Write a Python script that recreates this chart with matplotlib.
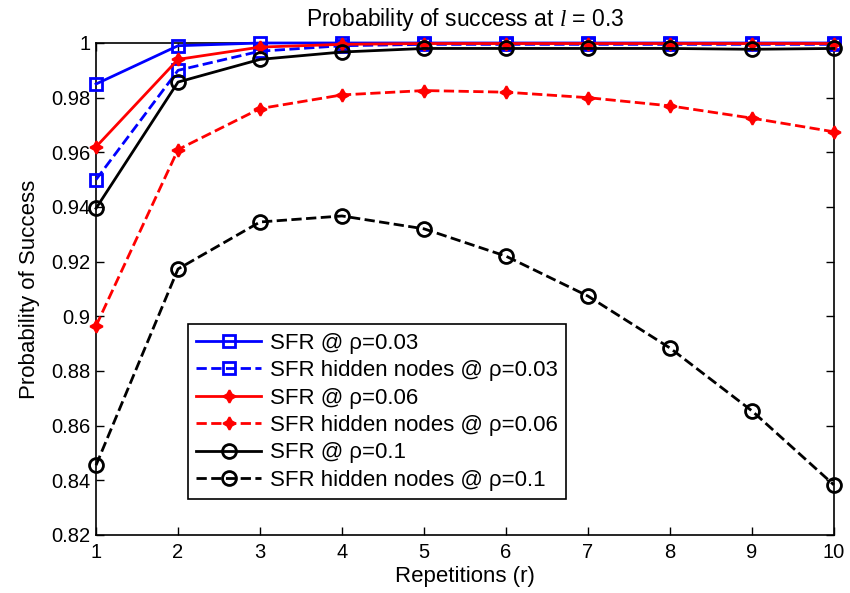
import matplotlib
matplotlib.use("Agg")
from matplotlib import pyplot as plt

plt.rcParams['font.family'] = ['Liberation Sans', 'DejaVu Sans']
plt.rcParams['mathtext.fontset'] = 'custom'
plt.rcParams['mathtext.it'] = 'Liberation Serif:italic'

r = [1, 2, 3, 4, 5, 6, 7, 8, 9, 10]

sfr_003 = [0.985, 0.999, 1.0, 1.0, 1.0, 1.0, 1.0, 1.0, 1.0, 1.0]
hidden_003 = [0.950, 0.990, 0.997, 0.999, 0.9995, 0.9995, 0.9995, 0.9995, 0.9995, 0.9995]
sfr_006 = [0.962, 0.994, 0.9985, 0.9995, 0.9998, 0.9998, 0.9998, 0.9998, 0.9998, 0.9998]
hidden_006 = [0.8965, 0.961, 0.976, 0.981, 0.9826, 0.982, 0.980, 0.977, 0.9725, 0.9675]
sfr_01 = [0.9395, 0.9857, 0.994, 0.9967, 0.998, 0.998, 0.998, 0.998, 0.9977, 0.998]
hidden_01 = [0.8455, 0.9173, 0.9345, 0.9367, 0.932, 0.922, 0.9074, 0.8884, 0.8654, 0.8383]

labels = ["SFR @ \u03c1=0.03", "SFR hidden nodes @ \u03c1=0.03",
          "SFR @ \u03c1=0.06", "SFR hidden nodes @ \u03c1=0.06",
          "SFR @ \u03c1=0.1", "SFR hidden nodes @ \u03c1=0.1"]

fig = plt.figure(figsize=(8.5, 5.93), dpi=100)
ax = fig.add_axes([0.113, 0.098, 0.868, 0.8295])

star = (4, 1, 0)
sq = dict(marker='s', markersize=9, markerfacecolor='none', markeredgewidth=2)
st = dict(marker=star, markersize=9, markeredgewidth=1.5)
ci = dict(marker='o', markersize=10, markerfacecolor='none', markeredgewidth=2)

ax.plot(r, sfr_003, '-', color='blue', lw=2, label=labels[0], clip_on=False, zorder=3, **sq)
ax.plot(r, hidden_003, '--', color='blue', lw=2, label=labels[1], clip_on=False, zorder=3, **sq)
ax.plot(r, sfr_006, '-', color='red', lw=2, label=labels[2], clip_on=False, zorder=3, **st)
ax.plot(r, hidden_006, '--', color='red', lw=2, label=labels[3], clip_on=False, zorder=3, **st)
ax.plot(r, sfr_01, '-', color='black', lw=2, label=labels[4], clip_on=False, zorder=3, **ci)
ax.plot(r, hidden_01, '--', color='black', lw=2, label=labels[5], clip_on=False, zorder=3, **ci)

ax.set_xlim(1, 10)
ax.set_ylim(0.82, 1.0)
ax.set_xticks(r)
yt = [0.82, 0.84, 0.86, 0.88, 0.9, 0.92, 0.94, 0.96, 0.98, 1]
ax.set_yticks(yt)
ax.set_yticklabels([f"{v:g}" for v in yt])
ax.tick_params(direction='in', top=True, right=True, labelsize=14.5, length=6, width=1)
ax.tick_params(axis='x', pad=6)
ax.tick_params(axis='y', pad=4)
for s in ax.spines.values():
    s.set_linewidth(1.2)

ax.set_xlabel("Repetitions (r)", fontsize=16, labelpad=3)
ax.set_ylabel("Probability of Success", fontsize=16, labelpad=8)
ax.set_title("Probability of success at $l$ = 0.3", fontsize=16.5, pad=12)

leg = ax.legend(loc='lower left', bbox_to_anchor=(0.221, 0.158), bbox_transform=fig.transFigure,
                fontsize=16, fancybox=False, edgecolor='black', framealpha=1,
                handlelength=2.9, labelspacing=0.29, borderpad=0.38, handletextpad=0.4,
                borderaxespad=0)
leg.get_frame().set_linewidth(1.2)

fig.savefig("out.png", dpi=100)
